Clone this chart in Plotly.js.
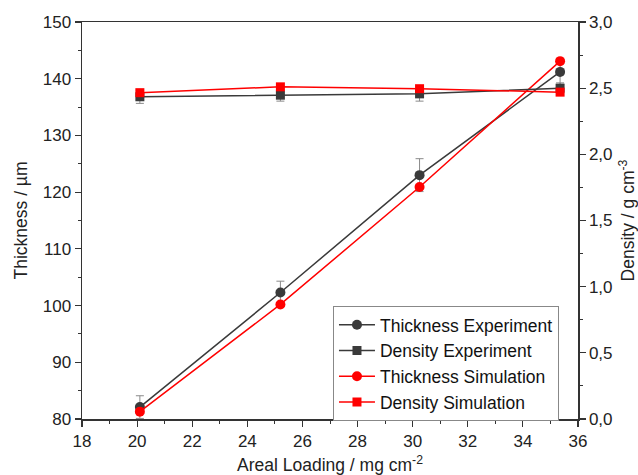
<!DOCTYPE html>
<html>
<head>
<meta charset="utf-8">
<script src="https://cdn.plot.ly/plotly-3.0.1.min.js"></script>
<style>html,body{margin:0;padding:0;background:#fff;}#chart{width:638px;height:475px;}</style>
</head>
<body>
<div id="chart"></div>
<script>
var arealLoading = [20.1, 25.2, 30.25, 35.35];
var thicknessExp = [82.1, 102.3, 123.0, 141.2];
var thicknessExpErr = [2.0, 2.0, 2.9, 2.2];
var densityExp = [2.435, 2.447, 2.457, 2.50];
var densityExpErr = [0.05, 0.045, 0.055, 0.04];
var thicknessSim = [81.3, 100.2, 120.9, 143.1];
var densitySim = [2.466, 2.51, 2.496, 2.47];

var dark = '#3a3a3a';
var red = '#ff0000';
var errColor = '#8a8a8a';

var traces = [
  {x: arealLoading, y: thicknessExp, name: 'Thickness Experiment', mode: 'lines+markers',
   line: {color: dark, width: 1.5}, marker: {symbol: 'circle', size: 10, color: dark},
   error_y: {type: 'data', array: thicknessExpErr, visible: true, color: errColor, thickness: 1, width: 4}},
  {x: arealLoading, y: densityExp, name: 'Density Experiment', mode: 'lines+markers', yaxis: 'y2',
   line: {color: dark, width: 1.5}, marker: {symbol: 'square', size: 9, color: dark},
   error_y: {type: 'data', array: densityExpErr, visible: true, color: errColor, thickness: 1, width: 4}},
  {x: arealLoading, y: thicknessSim, name: 'Thickness Simulation', mode: 'lines+markers',
   line: {color: red, width: 1.5}, marker: {symbol: 'circle', size: 10, color: red}},
  {x: arealLoading, y: densitySim, name: 'Density Simulation', mode: 'lines+markers', yaxis: 'y2',
   line: {color: red, width: 1.5}, marker: {symbol: 'square', size: 9, color: red}}
];

var tickFont = {family: 'Liberation Sans, Arial, sans-serif', size: 17, color: '#222'};
var titleFont = {family: 'Liberation Sans, Arial, sans-serif', size: 17.5, color: '#222'};

var layout = {
  width: 638, height: 475,
  margin: {l: 82, r: 60, t: 22, b: 56},
  paper_bgcolor: '#fff', plot_bgcolor: '#fff',
  separators: ',.',
  showlegend: true,
  hovermode: false,
  xaxis: {
    range: [18, 36], dtick: 2, tick0: 18, showgrid: false, zeroline: false,
    showline: true, linecolor: '#333', linewidth: 1.5, mirror: true,
    ticks: 'outside', ticklen: 6, tickwidth: 1.2, tickcolor: '#333',
    minor: {dtick: 1, ticks: 'outside', ticklen: 3, tickcolor: '#333', tickwidth: 1},
    tickfont: tickFont,
    title: {text: 'Areal Loading / mg cm<sup>-2</sup>', font: titleFont, standoff: 10}
  },
  yaxis: {
    range: [80, 150], dtick: 10, showgrid: false, zeroline: false,
    showline: true, linecolor: '#333', linewidth: 1.5,
    ticks: 'outside', ticklen: 6, tickwidth: 1.2, tickcolor: '#333',
    minor: {dtick: 5, ticks: 'outside', ticklen: 3, tickcolor: '#333', tickwidth: 1},
    tickfont: tickFont,
    title: {text: 'Thickness / µm', font: titleFont, standoff: 10}
  },
  yaxis2: {
    range: [0, 3], dtick: 0.5, tickformat: '.1f', overlaying: 'y', side: 'right',
    showgrid: false, zeroline: false,
    showline: true, linecolor: '#333', linewidth: 1.5,
    ticks: 'outside', ticklen: 6, tickwidth: 1.2, tickcolor: '#333',
    minor: {dtick: 0.25, ticks: 'outside', ticklen: 3, tickcolor: '#333', tickwidth: 1},
    tickfont: tickFont,
    title: {text: 'Density / g cm<sup>-3</sup>', font: titleFont, standoff: 12}
  },
  legend: {
    x: 0.506, y: 0.285, xanchor: 'left', yanchor: 'top',
    bgcolor: '#fff', bordercolor: '#888', borderwidth: 1,
    font: {family: 'Liberation Sans, Arial, sans-serif', size: 17.5, color: '#111'},
    tracegroupgap: 0, itemwidth: 36
  }
};

Plotly.newPlot('chart', traces, layout, {displayModeBar: false, staticPlot: true});
</script>
</body>
</html>
